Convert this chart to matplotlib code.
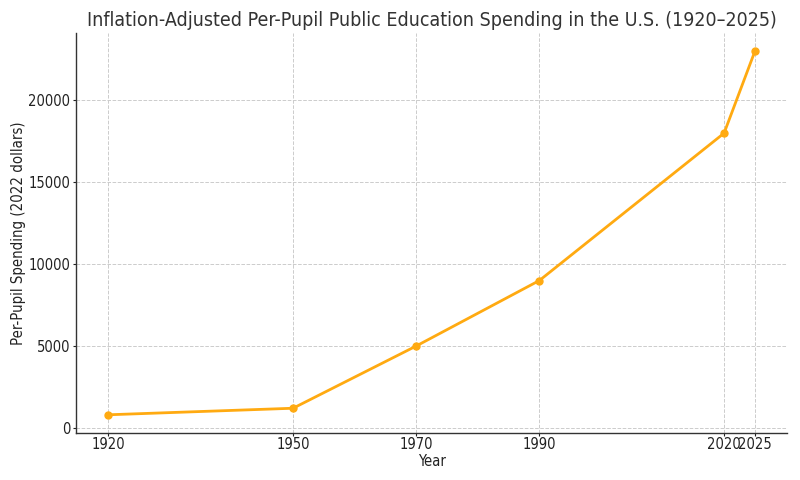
import matplotlib
matplotlib.use("Agg")
import matplotlib.pyplot as plt

plt.rcParams["font.family"] = ["DejaVu Sans"]
plt.rcParams["font.stretch"] = "condensed"

years = [1920, 1950, 1970, 1990, 2020, 2025]
spending = [800, 1200, 5000, 9000, 18000, 23000]

fig, ax = plt.subplots(figsize=(8, 4.8), dpi=100)
fig.subplots_adjust(left=0.095, right=0.984, top=0.931, bottom=0.098)

ax.plot(years, spending, color="#FFAA11", linewidth=2, marker="o", markersize=5)
ax.set_xticks(years)
ax.set_title("Inflation-Adjusted Per-Pupil Public Education Spending in the U.S. (1920–2025)",
             fontsize=14, color="#333333", pad=5)
ax.set_xlabel("Year", fontsize=10.5, color="#222222", labelpad=1)
ax.set_ylabel("Per-Pupil Spending (2022 dollars)", fontsize=10.7, color="#222222", labelpad=2)
ax.tick_params(labelsize=10.5, length=2.5, width=0.8, pad=1.5, colors="#222222")
ax.tick_params(axis="x", pad=0.5)
ax.grid(True, linestyle="--", color="#cccccc", linewidth=0.7)
ax.spines["top"].set_visible(False)
ax.spines["right"].set_visible(False)
for s in ("left", "bottom"):
    ax.spines[s].set_color("#333333")
    ax.spines[s].set_linewidth(1.0)

fig.savefig("out.png", dpi=100)
